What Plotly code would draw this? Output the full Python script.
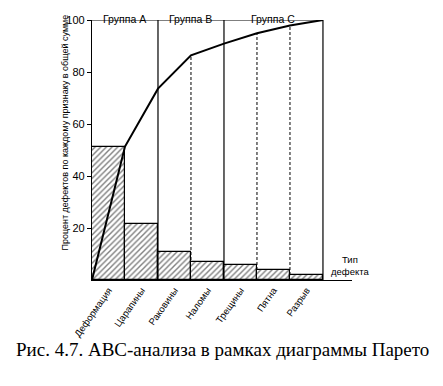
import plotly.graph_objects as go

categories = ["Деформация", "Царапины", "Раковины", "Наломы", "Трещины", "Пятна", "Разрыв"]
percent = [51.3, 21.5, 10.6, 6.8, 5.6, 4.0, 2.0]
cumulative = [0, 51.3, 73.6, 86.4, 90.9, 94.9, 97.9, 100]
groups = ["Группа A", "Группа B", "Группа C"]
group_bounds = [(0, 2), (2, 4), (4, 7)]
yticks = [20, 40, 60, 80, 100]

L, R, T, B = 92, 91, 19.5, 105.5
W, H = 443, 386
pw, ph = W - L - R, H - T - B
xmax = 7.88

def px(xp):
    return (xp - L) / pw

def py(yp):
    return (H - B - yp) / ph

fig = go.Figure()

shapes = []
for i in (3, 5, 6):
    shapes.append(dict(type="line", x0=i, x1=i, y0=0, y1=cumulative[i], xref="x", yref="y",
                       line=dict(color="black", width=1, dash="3px,2px"), layer="below"))

fig.add_trace(go.Bar(
    x=[i + 0.5 for i in range(len(categories))], y=percent, width=1,
    marker=dict(color="white", line=dict(color="black", width=1.2),
                pattern=dict(shape="/", fgcolor="black", bgcolor="white", size=4, solidity=0.35)),
    hoverinfo="skip", showlegend=False))

fig.add_trace(go.Scatter(
    x=list(range(len(cumulative))), y=cumulative, mode="lines",
    line=dict(color="black", width=2), showlegend=False, hoverinfo="skip"))

for i in (2, 4, 7):
    shapes.append(dict(type="line", x0=i, x1=i, y0=0, y1=100, xref="x", yref="y",
                       line=dict(color="black", width=1.2)))
shapes.append(dict(type="line", x0=0, x1=7, y0=100, y1=100, xref="x", yref="y",
                   line=dict(color="black", width=1.2)))

annotations = []
for g, (a, b) in zip(groups, group_bounds):
    annotations.append(dict(text=g, x=(a + b) / 2, y=py(10), xref="x", yref="paper",
                            showarrow=False, font=dict(family="Liberation Sans", size=10.5, color="black")))
annotations.append(dict(text="Процент дефектов по каждому признаку в общей сумме",
                        x=px(58), y=py(132.5), xref="paper", yref="paper", textangle=-90,
                        showarrow=False, font=dict(family="Liberation Sans", size=9, color="black")))
annotations.append(dict(text="Тип<br>дефекта", x=px(371), y=py(279), xref="paper", yref="paper",
                        showarrow=False, font=dict(family="Liberation Sans", size=9.5, color="black")))
annotations.append(dict(text="Рис. 4.7. АВС-анализа в рамках диаграммы Парето",
                        x=px(222), y=py(363), xref="paper", yref="paper", showarrow=False,
                        font=dict(family="Liberation Serif", size=19, color="black")))

fig.update_layout(
    width=W, height=H, margin=dict(l=L, r=R, t=T, b=B, autoexpand=False),
    paper_bgcolor="white", plot_bgcolor="white", bargap=0,
    shapes=shapes, annotations=annotations,
    xaxis=dict(range=[0, xmax], tickvals=[i + 0.5 for i in range(len(categories))], ticktext=categories,
               tickangle=-55, showline=True, linecolor="black", linewidth=1.2, showgrid=False,
               zeroline=False, ticks="", tickfont=dict(family="Liberation Sans", size=9.5, color="black"),
               fixedrange=True),
    yaxis=dict(range=[0, 100], tickvals=yticks, showline=True, linecolor="black", linewidth=1.2,
               showgrid=False, zeroline=False, ticks="outside", ticklen=4, tickcolor="black",
               tickfont=dict(family="Liberation Sans", size=11, color="black"), fixedrange=True),
)

fig.write_html("out.html", config={"displayModeBar": False},
               post_script="document.body.style.margin='0';document.body.style.overflow='hidden';")
